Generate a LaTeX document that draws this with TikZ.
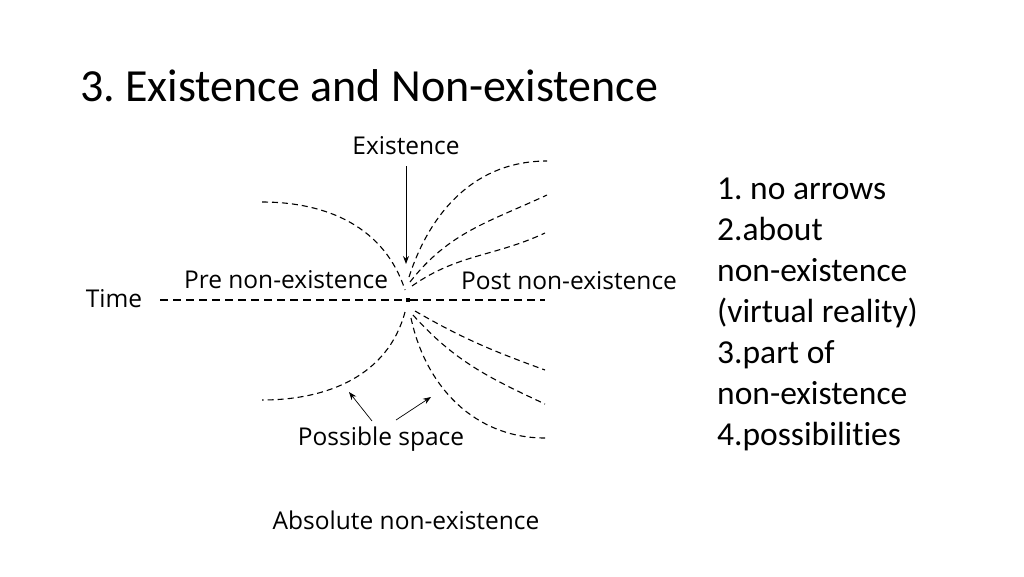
\documentclass[tikz,border=0pt]{standalone}
\usepackage{fontspec}
\setmainfont{Carlito}[Ligatures=NoCommon]
\newfontfamily\diagfont{Open Sans}
\usetikzlibrary{arrows.meta}
\tikzset{
  lbl/.style={font=\diagfont\fontsize{24.5}{28}\selectfont, inner sep=0pt},
  curve/.style={line width=1.1pt, dash pattern=on 6pt off 4pt},
  pointer/.style={-{Stealth[length=8pt,width=6pt]}, line width=0.9pt},
}
\begin{document}
\frenchspacing
\begin{tikzpicture}[x=1pt,y=1pt]
\useasboundingbox (0,0) rectangle (1024,-576);
% title and notes
\node[anchor=base west, inner sep=0pt, font=\fontsize{46}{52}\selectfont] (title) at (80,-101) {3. Existence and Non-existence};
\node[anchor=base west, inner sep=0pt, align=left, font=\fontsize{33.5}{41}\selectfont] (notes) at (717,-445)
  {1. no arrows\\2.about\\non-existence\\(virtual reality)\\3.part of\\non-existence\\4.possibilities};

% labels
\node[lbl] (exist) at (406,-146) {Existence};
\node[lbl] (time) at (114,-299) {Time};
\node[lbl] (pre) at (286,-280) {Pre non-existence};
\node[lbl] (post) at (569,-281) {Post non-existence};
\node[lbl] (space) at (381,-439) {Possible space};
\node[lbl] (absolute) at (406,-520) {Absolute non-existence};

% centre point
\node[fill, minimum size=4pt, inner sep=0pt] (c) at (408,-300) {};
\coordinate (tl) at (160,-300);
\coordinate (tr) at (545,-300);
\draw[line width=1.1pt, dash pattern=on 8pt off 5pt] (tl) -- (c) -- (tr);

\coordinate (ea) at (406,-166);
\coordinate (eb) at (406,-264);
\draw[pointer] (ea) -- (eb);

% upper curves
\coordinate (ul) at (262,-202);
\coordinate (u0) at (405,-290);
\draw[curve] (ul) to[out=0,in=108] (u0);
\coordinate (u1) at (409,-277);
\coordinate (u2) at (410,-282);
\coordinate (u3) at (412,-286);
\coordinate (r1) at (547,-161);
\coordinate (r2) at (547,-195);
\coordinate (r3) at (545,-233);
\draw[curve] (u1) to[out=72,in=180] (r1);
\draw[curve] (u2) to[out=52,in=205] (r2);
\draw[curve] (u3) to[out=35,in=205] (r3);

% lower curves
\coordinate (l0) at (405,-312);
\coordinate (ll) at (262,-400);
\draw[curve] (l0) to[out=-105,in=0] (ll);
\coordinate (d1) at (411,-318);
\coordinate (d2) at (413,-315);
\coordinate (d3) at (415,-311);
\coordinate (s1) at (545,-438);
\coordinate (s2) at (545,-404);
\coordinate (s3) at (545,-370);
\draw[curve] (d1) to[out=-78,in=180] (s1);
\draw[curve] (d2) to[out=-48,in=155] (s2);
\draw[curve] (d3) to[out=-30,in=160] (s3);

% possible space pointers
\coordinate (q1) at (372,-421);
\coordinate (q2) at (396,-420);
\coordinate (p1) at (349,-392);
\coordinate (p2) at (431,-397);
\draw[pointer, line width=0.7pt] (q1) -- (p1);
\draw[pointer, line width=0.7pt] (q2) -- (p2);
\end{tikzpicture}
\end{document}
